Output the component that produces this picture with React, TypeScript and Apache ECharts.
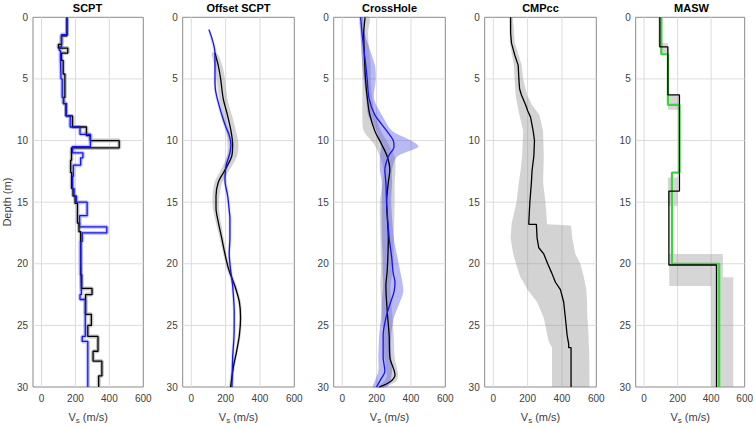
import React, { useEffect, useRef } from 'react';
import * as echarts from 'echarts';

// ---------- labels ----------
const panelTitles = ['SCPT', 'Offset SCPT', 'CrossHole', 'CMPcc', 'MASW'];
const xTickLabels = [0, 200, 400, 600];
const xGridValues = [0, 200, 400];
const depthGridValues = [5, 10, 15, 20, 25];

// ---------- SCPT (step profiles: layer boundaries + velocities) ----------
const scptBlackBounds = [0, 1.5, 2.2, 2.5, 2.9, 3.5, 4.6, 6.5, 7.0, 8.0, 8.9, 9.6, 10.0, 10.6, 11.6, 12.6, 13.9, 14.5, 15.1, 16.7, 17.4, 20.9, 22.0, 22.5, 24.1, 25.0, 25.9, 27.1, 27.9, 29.1, 30];
const scptBlackVs = [150, 118, 100, 155, 118, 128, 138, 130, 145, 183, 265, 288, 458, 177, 172, 178, 186, 198, 212, 221, 231, 237, 298, 260, 294, 273, 333, 304, 356, 337];
const scptBlueBounds = [0, 1.4, 2.4, 2.7, 3.5, 5, 6.5, 7, 8, 8.9, 9.5, 10.5, 11.0, 11.4, 12.0, 12.9, 13.9, 14.5, 15, 16.1, 17, 17.5, 18.2, 20, 22.5, 22.9, 25.9, 26.3, 30];
const scptBlueVs = [150, 118, 105, 112, 115, 122, 130, 145, 169, 227, 288, 183, 244, 231, 188, 183, 192, 206, 269, 225, 385, 240, 231, 235, 227, 258, 240, 273];

// ---------- Offset SCPT ----------
const offBlackDepth = [2.9, 3.9, 5, 6.6, 7.9, 9.2, 10.3, 11.3, 12.4, 13.4, 14.5, 15.5, 16.6, 17.9, 19.2, 20.5, 21.8, 23.1, 24.4, 25.8, 27.1, 28.4, 30];
const offBlackVs = [138, 157, 171, 186, 210, 231, 241, 235, 196, 157, 144, 144, 157, 177, 196, 219, 254, 280, 287, 280, 264, 245, 229];
const offBlackLo = [118, 135, 148, 162, 183, 203, 211, 207, 172, 135, 124, 126, 142, 165, 186, 208, 244, 271, 279, 272, 256, 237, 221];
const offBlackHi = [150, 180, 196, 210, 236, 260, 275, 266, 222, 180, 164, 162, 172, 189, 206, 230, 264, 289, 295, 288, 272, 253, 237];
const offBlueDepth = [1, 2.9, 5, 6, 7.4, 8.7, 9.5, 10.3, 11, 12.1, 13.2, 14.5, 15.8, 16.3, 17.9, 19.2, 20.5, 21.8, 23.9, 25.8, 27.6, 30];
const offBlueVs = [103, 138, 138, 142, 167, 196, 219, 231, 225, 202, 196, 212, 222, 225, 225, 221, 229, 241, 250, 249, 241, 237];
const offBlueLo = [98, 130, 130, 134, 158, 186, 208, 220, 214, 192, 186, 204, 214, 216, 217, 213, 221, 233, 242, 241, 233, 229];
const offBlueHi = [108, 146, 146, 150, 176, 206, 230, 242, 236, 212, 206, 220, 230, 234, 233, 229, 237, 249, 258, 257, 249, 245];

// ---------- CrossHole ----------
const chBlackDepth = [0, 1.3, 3.9, 5, 6.6, 7.9, 9.2, 10.3, 11.3, 12.4, 13.4, 15, 17.9, 20.5, 21.8, 23.9, 25.8, 27.6, 29, 29.6, 30];
const chBlackVs = [133, 125, 131, 135, 146, 160, 189, 229, 262, 277, 268, 258, 268, 262, 254, 262, 273, 277, 307, 277, 215];
const chBlackLo = [117, 112, 115, 117, 117, 117, 125, 185, 219, 240, 235, 219, 222, 225, 222, 230, 240, 245, 260, 240, 200];
const chBlackHi = [160, 150, 165, 165, 175, 190, 225, 270, 305, 310, 305, 305, 300, 295, 280, 290, 300, 305, 325, 310, 235];
const chBlueDepth = [0, 1.3, 3.9, 5, 6.6, 7.9, 9.2, 10, 10.5, 11.3, 12.4, 13.4, 15, 17.9, 19.4, 20.8, 21.5, 22.3, 23.3, 24.4, 25.8, 27.6, 28.7, 29.5, 30];
const chBlueVs = [107, 115, 137, 145, 156, 189, 258, 297, 301, 268, 248, 254, 258, 273, 287, 297, 307, 301, 277, 254, 238, 238, 248, 219, 199];
const chBlueLo = [100, 105, 117, 125, 140, 150, 199, 215, 225, 219, 219, 230, 230, 230, 235, 235, 238, 235, 230, 225, 215, 210, 210, 190, 180];
const chBlueHi = [120, 130, 190, 195, 185, 230, 290, 400, 443, 320, 290, 290, 285, 300, 320, 340, 350, 355, 330, 300, 285, 285, 290, 280, 260];

// ---------- CMPcc ----------
const cmpDepth = [0, 1.3, 2.1, 3.1, 3.9, 5, 5.8, 6.3, 7.1, 7.6, 8.1, 9.2, 10, 11.3, 12.4, 13.4, 15, 16.6, 16.8, 16.8, 17.9, 18.7, 19.2, 20, 20.8, 21.5, 22.1, 23.1, 24.4, 25.8, 26.5, 26.8, 26.8, 30];
const cmpVs = [101, 101, 106, 126, 145, 149, 153, 164, 188, 201, 217, 232, 240, 236, 226, 222, 213, 207, 207, 251, 255, 265, 294, 317, 342, 362, 391, 410, 420, 430, 439, 439, 453, 453];
const cmpBandDepth = [0, 2.1, 3.1, 3.9, 5, 6.3, 7.1, 7.9, 9.2, 11.3, 12.4, 13.4, 15, 16.8, 16.9, 17.9, 19.2, 20, 21, 22.1, 23.1, 24.4, 25.8, 26.3, 26.8, 30];
const cmpBandLo = [91, 97, 110, 120, 124, 130, 140, 152, 174, 168, 159, 149, 135, 106, 106, 101, 116, 132, 155, 200, 255, 294, 315, 323, 342, 342];
const cmpBandHi = [114, 126, 149, 165, 174, 197, 225, 268, 290, 294, 292, 290, 304, 313, 453, 460, 478, 507, 526, 542, 546, 548, 555, 555, 558, 561];

// ---------- MASW ----------
const maswBlackBounds = [0, 2.4, 6.3, 14.1, 20.1, 30];
const maswBlackVs = [94, 142, 211, 148, 432];
const maswGreenBounds = [0, 3.0, 7.1, 12.6, 20.0, 30];
const maswGreenVs = [103, 142, 211, 166, 448];
// uncertainty boxes: [vLow, vHigh, depthTop, depthBottom]
const maswBoxes = [
  [84, 109, 0, 2.4],
  [94, 142, 2.1, 3.0],
  [142, 211, 6.3, 7.5],
  [142, 200, 13.0, 15.3],
  [150, 470, 19.2, 21.8],
  [400, 470, 21.8, 30],
  [470, 532, 21.1, 30],
];

// ---------- layout ----------
const GRID_LEFT0 = 31.7;
const GRID_STEP = 151;
const GRID_W = 111.6;
const GRID_TOP = 17.3;
const GRID_H = 379;
const FONT = 'Liberation Sans, Arial, Helvetica, sans-serif';

const BLACK = '#000000';
const BLUE = '#1515e6';
const GREEN = '#3fd43f';
const GRAY_FILL = 'rgba(140,140,140,0.38)';
const BLUE_FILL = 'rgba(70,70,225,0.38)';

function stepPoints(bounds: number[], vs: number[]) {
  const pts: number[][] = [];
  vs.forEach((v, i) => {
    pts.push([v, bounds[i]]);
    pts.push([v, bounds[i + 1]]);
  });
  return pts;
}
function zipPts(vs: number[], ds: number[]) {
  return vs.map((v, i) => [v, ds[i]]);
}

function gridLineSeries(i: number) {
  return {
    type: 'custom',
    xAxisIndex: i,
    yAxisIndex: i,
    z: 1,
    silent: true,
    data: [[0, 0]],
    renderItem: (_p: any, api: any) => {
      const children: any[] = [];
      xGridValues.forEach((v) => {
        const a = api.coord([v, 0]);
        const b = api.coord([v, 30]);
        children.push({ type: 'line', shape: { x1: a[0], y1: a[1], x2: b[0], y2: b[1] }, style: { stroke: '#dcdcdc', lineWidth: 1 } });
      });
      depthGridValues.forEach((d) => {
        const a = api.coord([-50, d]);
        const b = api.coord([600, d]);
        children.push({ type: 'line', shape: { x1: a[0], y1: a[1], x2: b[0], y2: b[1] }, style: { stroke: '#dcdcdc', lineWidth: 1 } });
      });
      return { type: 'group', children };
    },
  };
}

function bandSeries(i: number, depth: number[], lo: number[], hi: number[], fill: string, smooth: number) {
  return {
    type: 'custom',
    xAxisIndex: i,
    yAxisIndex: i,
    z: 2,
    silent: true,
    data: [[0, 0]],
    renderItem: (_p: any, api: any) => {
      const pts: number[][] = [];
      depth.forEach((d, k) => pts.push(api.coord([lo[k], d])));
      for (let k = depth.length - 1; k >= 0; k--) pts.push(api.coord([hi[k], depth[k]]));
      return { type: 'polygon', shape: { points: pts, smooth }, style: { fill, stroke: null } };
    },
  };
}

function boxSeries(i: number, boxes: number[][], fill: string) {
  return {
    type: 'custom',
    xAxisIndex: i,
    yAxisIndex: i,
    z: 2,
    silent: true,
    data: [[0, 0]],
    renderItem: (_p: any, api: any) => ({
      type: 'group',
      children: boxes.map((b) => {
        const p1 = api.coord([b[0], b[2]]);
        const p2 = api.coord([b[1], b[3]]);
        return { type: 'rect', shape: { x: p1[0], y: p1[1], width: p2[0] - p1[0], height: p2[1] - p1[1] }, style: { fill } };
      }),
    }),
  };
}

function lineSeries(i: number, data: number[][], color: string, width: number, smooth: number | boolean, z = 4) {
  return {
    type: 'line',
    xAxisIndex: i,
    yAxisIndex: i,
    data,
    z,
    silent: true,
    symbol: 'none',
    showSymbol: false,
    smooth,
    lineStyle: { color, width },
    itemStyle: { color },
  };
}

export default function App() {
  const ref = useRef<HTMLDivElement>(null);
  useEffect(() => {
    if (!ref.current) return;
    const chart = echarts.init(ref.current, undefined, { renderer: 'svg' });
    const grids: any[] = [];
    const xAxes: any[] = [];
    const yAxes: any[] = [];
    const graphics: any[] = [];
    for (let i = 0; i < 5; i++) {
      const left = GRID_LEFT0 + i * GRID_STEP;
      grids.push({ left, top: GRID_TOP, width: GRID_W, height: GRID_H, show: true, borderColor: '#8a8a8a', borderWidth: 1, backgroundColor: 'transparent' });
      xAxes.push({
        gridIndex: i,
        type: 'value',
        min: -50,
        max: 600,
        interval: 50,
        axisLine: { show: false },
        axisTick: { show: false },
        splitLine: { show: false },
        axisLabel: {
          interval: 0,
          formatter: (v: number) => (xTickLabels.includes(v) ? String(v) : ''),
          fontSize: 10,
          color: '#404040',
          margin: 6,
          fontFamily: FONT,
        },
        name: '{v|V}{s|s}{v| (m/s)}',
        nameLocation: 'middle',
        nameGap: 22,
        nameTextStyle: {
          fontFamily: FONT,
          rich: {
            v: { fontSize: 11, color: '#404040', fontFamily: FONT },
            s: { fontSize: 8, color: '#404040', fontFamily: FONT, padding: [7, 0, 0, 0] },
          },
        },
      });
      yAxes.push({
        gridIndex: i,
        type: 'value',
        inverse: true,
        min: 0,
        max: 30,
        interval: 5,
        axisLine: { show: false },
        axisTick: { show: false },
        splitLine: { show: false },
        axisLabel: { fontSize: 10, color: '#404040', margin: 5, fontFamily: FONT },
        name: i === 0 ? 'Depth (m)' : '',
        nameLocation: 'middle',
        nameGap: 21,
        nameRotate: 90,
        nameTextStyle: { fontSize: 11, color: '#404040', fontFamily: FONT },
      });
      graphics.push({
        type: 'text',
        x: left + GRID_W / 2,
        y: 2,
        style: { text: panelTitles[i], textAlign: 'center', textVerticalAlign: 'top', font: `bold 11px ${FONT}`, fill: '#000' },
      });
    }

    const series: any[] = [];
    for (let i = 0; i < 5; i++) series.push(gridLineSeries(i));

    // SCPT
    series.push(lineSeries(0, stepPoints(scptBlackBounds, scptBlackVs), '#c4c4c4', 4, false, 3));
    series.push(lineSeries(0, stepPoints(scptBlueBounds, scptBlueVs), 'rgba(90,90,255,0.35)', 4, false, 3));
    series.push(lineSeries(0, stepPoints(scptBlackBounds, scptBlackVs), BLACK, 1.3, false));
    series.push(lineSeries(0, stepPoints(scptBlueBounds, scptBlueVs), BLUE, 1.3, false, 5));

    // Offset SCPT
    series.push(bandSeries(1, offBlackDepth, offBlackLo, offBlackHi, GRAY_FILL, 0.3));
    series.push(bandSeries(1, offBlueDepth, offBlueLo, offBlueHi, 'rgba(90,90,240,0.25)', 0.3));
    series.push(lineSeries(1, zipPts(offBlackVs, offBlackDepth), BLACK, 1.3, 0.3));
    series.push(lineSeries(1, zipPts(offBlueVs, offBlueDepth), BLUE, 1.3, 0.3, 5));

    // CrossHole
    series.push(bandSeries(2, chBlackDepth, chBlackLo, chBlackHi, GRAY_FILL, 0.3));
    series.push(bandSeries(2, chBlueDepth, chBlueLo, chBlueHi, BLUE_FILL, 0.3));
    series.push(lineSeries(2, zipPts(chBlackVs, chBlackDepth), BLACK, 1.3, 0.3));
    series.push(lineSeries(2, zipPts(chBlueVs, chBlueDepth), BLUE, 1.3, 0.3, 5));

    // CMPcc
    series.push(bandSeries(3, cmpBandDepth, cmpBandLo, cmpBandHi, GRAY_FILL, 0));
    series.push(lineSeries(3, zipPts(cmpVs, cmpDepth), BLACK, 1.3, false));

    // MASW
    series.push(boxSeries(4, maswBoxes, 'rgba(140,140,140,0.36)'));
    series.push(lineSeries(4, stepPoints(maswGreenBounds, maswGreenVs), GREEN, 2.2, false, 4));
    series.push(lineSeries(4, stepPoints(maswBlackBounds, maswBlackVs), BLACK, 1.3, false, 5));

    chart.setOption({
      animation: false,
      grid: grids,
      xAxis: xAxes,
      yAxis: yAxes,
      graphic: graphics,
      series,
    });
    return () => chart.dispose();
  }, []);
  return <div ref={ref} style={{ position: 'fixed', left: 0, top: 0, width: 756, height: 429, background: '#fff' }} />;
}
